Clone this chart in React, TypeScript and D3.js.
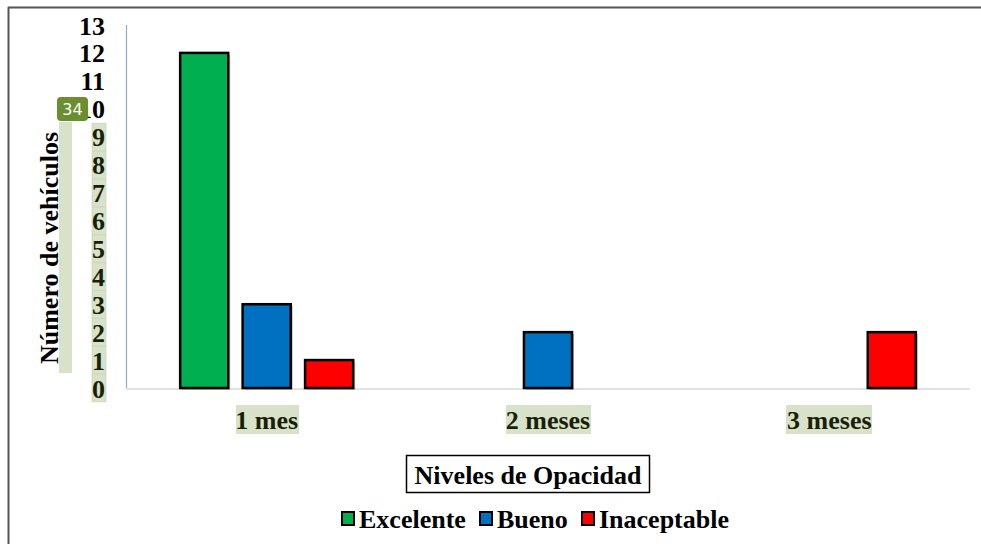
import React from "react";
import * as d3 from "d3";

const categories = ["1 mes", "2 meses", "3 meses"];
const seriesNames = ["Excelente", "Bueno", "Inaceptable"];
const excelente = [12, 0, 0];
const bueno = [3, 2, 0];
const inaceptable = [1, 0, 2];
const seriesColors = ["#00b050", "#0070c0", "#ff0000"];
const yTicks = [0, 1, 2, 3, 4, 5, 6, 7, 8, 9, 10, 11, 12, 13];
const highlightedTicks = [0, 1, 2, 3, 4, 5, 6, 7, 8, 9];
const yTitle = "Número de vehículos";
const legendTitle = "Niveles de Opacidad";
const badgeText = "34";

const W = 981;
const H = 544;
const FONT = "'Liberation Serif', 'Times New Roman', serif";
const HL = "#d8e2c9";

export default function App() {
  const left = 126, right = 970, top = 25, bottom = 388;
  const x0 = d3.scaleBand<string>().domain(categories).range([left, right]).paddingInner(0).paddingOuter(0);
  const groupW = 173;
  const x1 = d3.scaleBand<string>().domain(seriesNames).range([0, groupW]).paddingInner(0.23).paddingOuter(0);
  const y = d3.scaleLinear().domain([0, 13]).range([bottom, top]);
  const allSeries = [excelente, bueno, inaceptable];
  const off = (x0.bandwidth() - groupW) / 2;

  const bars: any[] = [];
  categories.forEach((c, ci) => {
    allSeries.forEach((s, si) => {
      const v = s[ci];
      if (!v) return;
      bars.push({
        key: c + si,
        x: (x0(c) as number) + off + (x1(seriesNames[si]) as number),
        y: y(v),
        w: x1.bandwidth(),
        h: y(0) - y(v),
        color: seriesColors[si],
      });
    });
  });

  const legendItems = [
    { name: seriesNames[0], color: seriesColors[0], sx: 341, tx: 359 },
    { name: seriesNames[1], color: seriesColors[1], sx: 479, tx: 497 },
    { name: seriesNames[2], color: seriesColors[2], sx: 581, tx: 599 },
  ];

  const catHL = [
    { x: 236, w: 63 },
    { x: 506, w: 85 },
    { x: 786, w: 86 },
  ];

  return (
    <svg width={W} height={H} style={{ position: "absolute", left: 0, top: 0, background: "#fff" }}>
      <rect x={0} y={0} width={W} height={H} fill="#fff" />
      {/* outer frame */}
      <line x1={8.5} y1={7} x2={8.5} y2={H} stroke="#555" strokeWidth={2} />
      <line x1={8} y1={7.5} x2={W} y2={7.5} stroke="#555" strokeWidth={2} />

      {/* axes */}
      <line x1={left + 0.5} y1={top} x2={left + 0.5} y2={bottom} stroke="#8eaadb" strokeWidth={1.2} />
      <line x1={left} y1={bottom + 1} x2={right} y2={bottom + 1} stroke="#d9d9d9" strokeWidth={1.5} />

      {/* bars */}
      {bars.map((b) => (
        <g key={b.key}>
          <rect x={b.x + 2} y={b.y + 2} width={b.w} height={b.h} fill="#9a9a9a" opacity={0.6} />
          <rect x={b.x} y={b.y} width={b.w} height={b.h} fill={b.color} stroke="#000" strokeWidth={2.5} />
        </g>
      ))}

      {/* y highlight strip */}
      {highlightedTicks.map((t) => (
        <rect key={"h" + t} x={92} y={y(t) - 13.5} width={14} height={27.4} fill={HL} stroke="#c5cfb5" strokeWidth={0.6} />
      ))}
      {/* y tick labels */}
      {yTicks.map((t) => (
        <text key={t} x={105} y={y(t) + 1} textAnchor="end" dominantBaseline="central"
          fontFamily={FONT} fontWeight="bold" fontSize={26} fill={t <= 9 ? "#1a1f0a" : "#000"}>
          {t}
        </text>
      ))}

      {/* y title */}
      <rect x={59} y={122} width={13} height={251} fill={HL} />
      <text transform={`translate(58,${248}) rotate(-90)`} textAnchor="middle"
        fontFamily={FONT} fontWeight="bold" fontSize={26} fill="#000">
        {yTitle}
      </text>

      {/* badge */}
      <rect x={57} y={97} width={31} height={24} rx={4} fill="#6b8e2f" />
      <text x={72.5} y={109.5} textAnchor="middle" dominantBaseline="central"
        fontFamily="'DejaVu Sans', sans-serif" fontSize={16} fill="#fff">{badgeText}</text>

      {/* category labels */}
      {categories.map((c, i) => {
        const cx = (x0(c) as number) + x0.bandwidth() / 2;
        return (
          <g key={c}>
            <rect x={catHL[i].x} y={405} width={catHL[i].w} height={29} fill={HL} />
            <text x={cx} y={420} textAnchor="middle" dominantBaseline="central"
              fontFamily={FONT} fontWeight="bold" fontSize={26} fill="#1a1f0a">{c}</text>
          </g>
        );
      })}

      {/* legend title */}
      <rect x={406.5} y={455.5} width={243} height={37} fill="#fff" stroke="#000" strokeWidth={1.5} />
      <text x={528} y={475} textAnchor="middle" dominantBaseline="central"
        fontFamily={FONT} fontWeight="bold" fontSize={26} fill="#000">{legendTitle}</text>

      {/* legend */}
      {legendItems.map((it) => (
        <g key={it.name}>
          <rect x={it.sx + 1} y={512} width={12} height={13} fill={it.color} stroke="#000" strokeWidth={2} />
          <text x={it.tx} y={519} dominantBaseline="central"
            fontFamily={FONT} fontWeight="bold" fontSize={26} fill="#000">{it.name}</text>
        </g>
      ))}
    </svg>
  );
}
